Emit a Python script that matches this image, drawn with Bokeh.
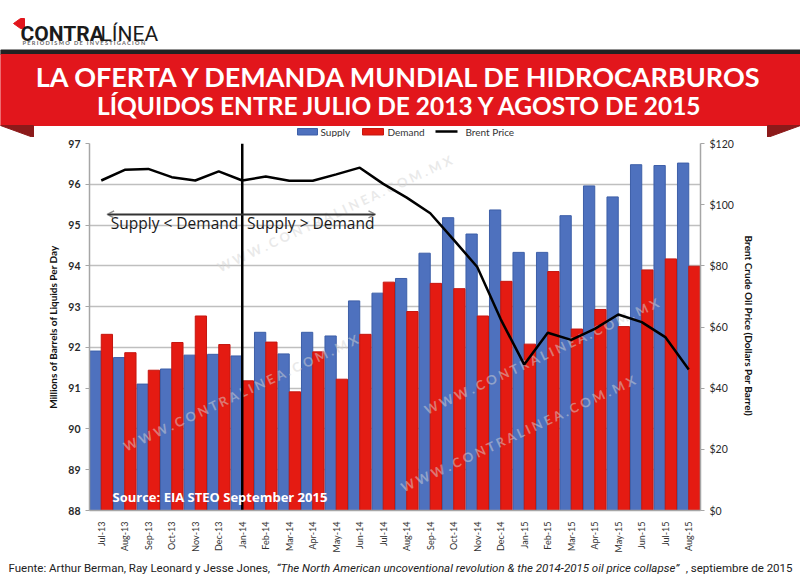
import math
from bokeh.plotting import figure
from bokeh.models import (Range1d, LinearAxis, FactorRange, ColumnDataSource, FixedTicker,
                          NumeralTickFormatter, Arrow, OpenHead)
from bokeh.transform import dodge
from bokeh.layouts import column
from bokeh.core.properties import value
from bokeh.embed import file_html
from bokeh.resources import INLINE

# ---------------- data ----------------
months = ["Jul-13", "Aug-13", "Sep-13", "Oct-13", "Nov-13", "Dec-13", "Jan-14", "Feb-14",
          "Mar-14", "Apr-14", "May-14", "Jun-14", "Jul-14", "Aug-14", "Sep-14", "Oct-14",
          "Nov-14", "Dec-14", "Jan-15", "Feb-15", "Mar-15", "Apr-15", "May-15", "Jun-15",
          "Jul-15", "Aug-15"]
supply = [91.91, 91.75, 91.10, 91.47, 91.81, 91.83, 91.79, 92.37, 91.84, 92.37, 92.28, 93.14,
          93.33, 93.69, 94.31, 95.18, 94.78, 95.37, 94.33, 94.33, 95.23, 95.96, 95.69, 96.48,
          96.46, 96.52]
demand = [92.32, 91.87, 91.44, 92.12, 92.77, 92.07, 91.18, 92.13, 90.91, 91.89, 91.22, 92.32,
          93.60, 92.88, 93.57, 93.44, 92.77, 93.62, 92.08, 93.86, 92.45, 92.93, 92.51, 93.90,
          94.17, 93.99]
brent = [107.9, 111.4, 111.7, 109.0, 107.9, 110.9, 107.9, 109.2, 107.8, 107.8, 109.9, 112.1,
         106.8, 102.3, 97.2, 88.5, 79.6, 62.5, 47.7, 58.1, 55.8, 59.4, 64.1, 61.6, 56.7, 46.1]
left_ticks = [88, 89, 90, 91, 92, 93, 94, 95, 96, 97]
price_ticks = [0, 20, 40, 60, 80, 100, 120]
divider_month = "Jan-14"
series_names = ["Supply", "Demand", "Brent Price"]

title_lines = ["LA OFERTA Y DEMANDA MUNDIAL DE HIDROCARBUROS",
               "LÍQUIDOS ENTRE JULIO DE 2013 Y AGOSTO DE 2015"]
fuente_1 = "Fuente: Arthur Berman, Ray Leonard y Jesse Jones, "
fuente_2 = "“The North American uncoventional revolution & the 2014-2015 oil price collapse”"
fuente_3 = ", septiembre de 2015"
watermark = "W W W . C O N T R A L I N E A . C O M . M X"
NB = "\u00a0"
logo_sub = (NB * 3).join(NB.join(word) for word in ["PERIODISMO", "DE", "INVESTIGACIÓN"])

# ---------------- styles ----------------
FONT = "Lato"
BLUE, BLUE_EDGE = "#4e71be", "#3d5fa8"
RED, RED_EDGE = "#e41b12", "#c51710"
BANNER = "#e2161c"
W = 800

# ---------------- header ----------------
HEAD_H = 137
h = figure(width=W, height=HEAD_H, x_range=Range1d(0, 800), y_range=Range1d(137, 0),
           x_axis_location=None, y_axis_location=None, toolbar_location=None,
           output_backend="svg", min_border=0, outline_line_color=None, frame_align=False)
h.grid.visible = False

# logo
h.patch(x=[13, 20, 24, 24, 20], y=[23, 18, 18, 28, 28], color="#e2161c")
h.text(x=[20], y=[33], text=["CONTRA"], text_font=value("Roboto"), text_font_style="bold",
       text_font_size="21px", text_color="#1b1b1b", text_baseline="alphabetic")
h.text(x=[100], y=[33], text=["LÍNEA"], text_font=value("Roboto"), text_font_style="normal",
       text_font_size="21px", text_color="#1b1b1b", text_baseline="alphabetic")
h.text(x=[22], y=[42], text=[logo_sub], text_font=value(FONT),
       text_font_style="bold", text_font_size="5.6px", text_color="#6a6a6a",
       text_baseline="middle")

# banner
h.quad(left=[0], right=[800], top=[49.5], bottom=[54], color="#222222")
h.quad(left=[0], right=[800], top=[54], bottom=[125], color=BANNER)
h.patch(x=[0, 33, 33], y=[125, 125, 137], color="#8c1a1a")
h.patch(x=[767, 800, 767], y=[125, 125, 137], color="#8c1a1a")
h.text(x=[400], y=[76], text=[title_lines[0]], text_font=value(FONT),
       text_font_style="bold", text_font_size="27px", text_color="white",
       text_align="center", text_baseline="middle")
h.text(x=[400], y=[104.5], text=[title_lines[1]], text_font=value(FONT),
       text_font_style="bold", text_font_size="24.5px", text_color="white",
       text_align="center", text_baseline="middle")

# legend
h.quad(left=[297], right=[317], top=[128], bottom=[134.5], fill_color=BLUE, line_color=BLUE_EDGE)
h.quad(left=[362], right=[383], top=[128], bottom=[134.5], fill_color=RED, line_color=RED_EDGE)
h.line(x=[435, 457], y=[131, 131], line_color="black", line_width=2.5)
h.text(x=[320, 387, 465], y=[131.5, 131.5, 131.5], text=series_names, text_font=value(FONT),
       text_font_size="10px", text_color="#333333", text_baseline="middle")

# ---------------- main chart ----------------
MAIN_H = 418
src = ColumnDataSource(dict(month=months, supply=supply, demand=demand, brent=brent))
p = figure(width=W, height=MAIN_H, x_range=FactorRange(*months),
           y_range=Range1d(left_ticks[0], left_ticks[-1]),
           toolbar_location=None, output_backend="svg", frame_align=False,
           min_border_left=89, min_border_right=100, min_border_top=6, min_border_bottom=45,
           outline_line_color=None)
p.extra_y_ranges = {"price": Range1d(price_ticks[0], price_ticks[-1])}

wm_x = [10.5, 6.5, 19.3, 18.3]
wm_y = [95.3, 90.9, 91.8, 89.9]
wm_src = ColumnDataSource(dict(x=wm_x, y=wm_y, t=[watermark] * len(wm_x)))

p.vbar(x=dodge("month", -0.24, range=p.x_range), top="supply", bottom=left_ticks[0],
       width=0.48, source=src, fill_color=BLUE, line_color=BLUE_EDGE, line_width=1)
p.vbar(x=dodge("month", 0.24, range=p.x_range), top="demand", bottom=left_ticks[0],
       width=0.48, source=src, fill_color=RED, line_color=RED_EDGE, line_width=1)

p.text(x="x", y="y", text="t", source=wm_src, angle=math.radians(25),
       text_font=value(FONT), text_font_style="bold", text_font_size="13px",
       text_color="#d4d4d4", text_alpha=0.5, text_align="center", text_baseline="middle")

p.line(x="month", y="brent", source=src, y_range_name="price", line_color="black",
       line_width=2.5)

# divider
p.segment(x0=[divider_month], y0=[left_ticks[0]], x1=[divider_month], y1=[left_ticks[-1]],
          line_color="black", line_width=2.5)
arrow_y = 95.26
p.add_layout(Arrow(start=OpenHead(size=7, line_color="#8a8a8a", line_width=1.5),
                   end=OpenHead(size=7, line_color="#8a8a8a", line_width=1.5),
                   x_start=0.75, x_end=12.17, y_start=arrow_y, y_end=arrow_y,
                   line_color="#333333", line_width=2))
p.text(x=dodge("x", -0.17, range=p.x_range), y="y", text="t",
       source=ColumnDataSource(dict(x=[divider_month], y=[95.04], t=["Supply < Demand"])),
       text_font=value("Open Sans"), text_font_size="15.5px", text_color="#1a1a1a",
       text_align="right", text_baseline="middle")
p.text(x=dodge("x", 0.2, range=p.x_range), y="y", text="t",
       source=ColumnDataSource(dict(x=[divider_month], y=[95.04], t=["Supply > Demand"])),
       text_font=value("Open Sans"), text_font_size="15.5px", text_color="#1a1a1a",
       text_align="left", text_baseline="middle")
p.text(x=[0.98], y=[88.33], text=["Source:  EIA STEO September 2015"], text_font=value("Open Sans"),
       text_font_style="bold", text_font_size="13px", text_color="white",
       text_baseline="middle")

# axes
p.xgrid.visible = False
p.ygrid.grid_line_color = "#bfbfbf"
p.ygrid.grid_line_width = 1.5
p.ygrid.ticker = FixedTicker(ticks=left_ticks)

ya = p.yaxis[0]
ya.ticker = FixedTicker(ticks=left_ticks)
ya.axis_label = "Millions of Barrels of Liquids Per Day"
ax_right = LinearAxis(y_range_name="price", ticker=FixedTicker(ticks=price_ticks),
                      formatter=NumeralTickFormatter(format="$0"),
                      axis_label="Brent Crude Oil Price  (Dollars Per Barrel)")
p.add_layout(ax_right, "right")

for ax in (ya, ax_right):
    ax.axis_line_color = "#a6a6a6"
    ax.axis_line_width = 1.5
    ax.major_tick_line_color = "#a6a6a6"
    ax.major_tick_out = 4
    ax.major_tick_in = 0
    ax.minor_tick_line_color = None
    ax.major_label_text_font = FONT
    ax.major_label_text_font_size = "10.5px"
    ax.major_label_text_color = "#2a2a2a"
    ax.major_label_standoff = 5
    ax.axis_label_text_font = FONT
    ax.axis_label_text_font_style = "bold"
    ax.axis_label_text_font_size = "10px"
    ax.axis_label_text_color = "#111111"
    ax.axis_label_standoff = 6
ya.major_label_text_font_style = "bold"

xa = p.xaxis[0]
xa.major_label_orientation = math.pi / 2
xa.major_label_text_font = FONT
xa.major_label_text_font_size = "9px"
xa.major_label_text_color = "#333333"
xa.axis_line_color = "#a6a6a6"
xa.axis_line_width = 1.5
xa.major_tick_line_color = None
xa.major_label_standoff = 5

# ---------------- footer ----------------
f = figure(width=W, height=28, x_range=Range1d(0, 800), y_range=Range1d(583, 555),
           x_axis_location=None, y_axis_location=None, toolbar_location=None,
           output_backend="svg", min_border=0, outline_line_color=None, frame_align=False)
f.grid.visible = False
f.text(x=[8], y=[567], text=[fuente_1], text_font=value("Roboto"), text_font_size="11.5px",
       text_color="#222222", text_align="left", text_baseline="middle")
f.text(x=[276], y=[567], text=[fuente_2], text_font=value("Roboto"), text_font_style="italic",
       text_font_size="11.5px", text_color="#222222", text_align="left", text_baseline="middle")
f.text(x=[792], y=[567], text=[fuente_3], text_font=value("Roboto"), text_font_size="11.5px",
       text_color="#222222", text_align="right", text_baseline="middle")

layout = column(h, p, f, spacing=0)
open("out.html", "w").write(file_html(layout, INLINE))
